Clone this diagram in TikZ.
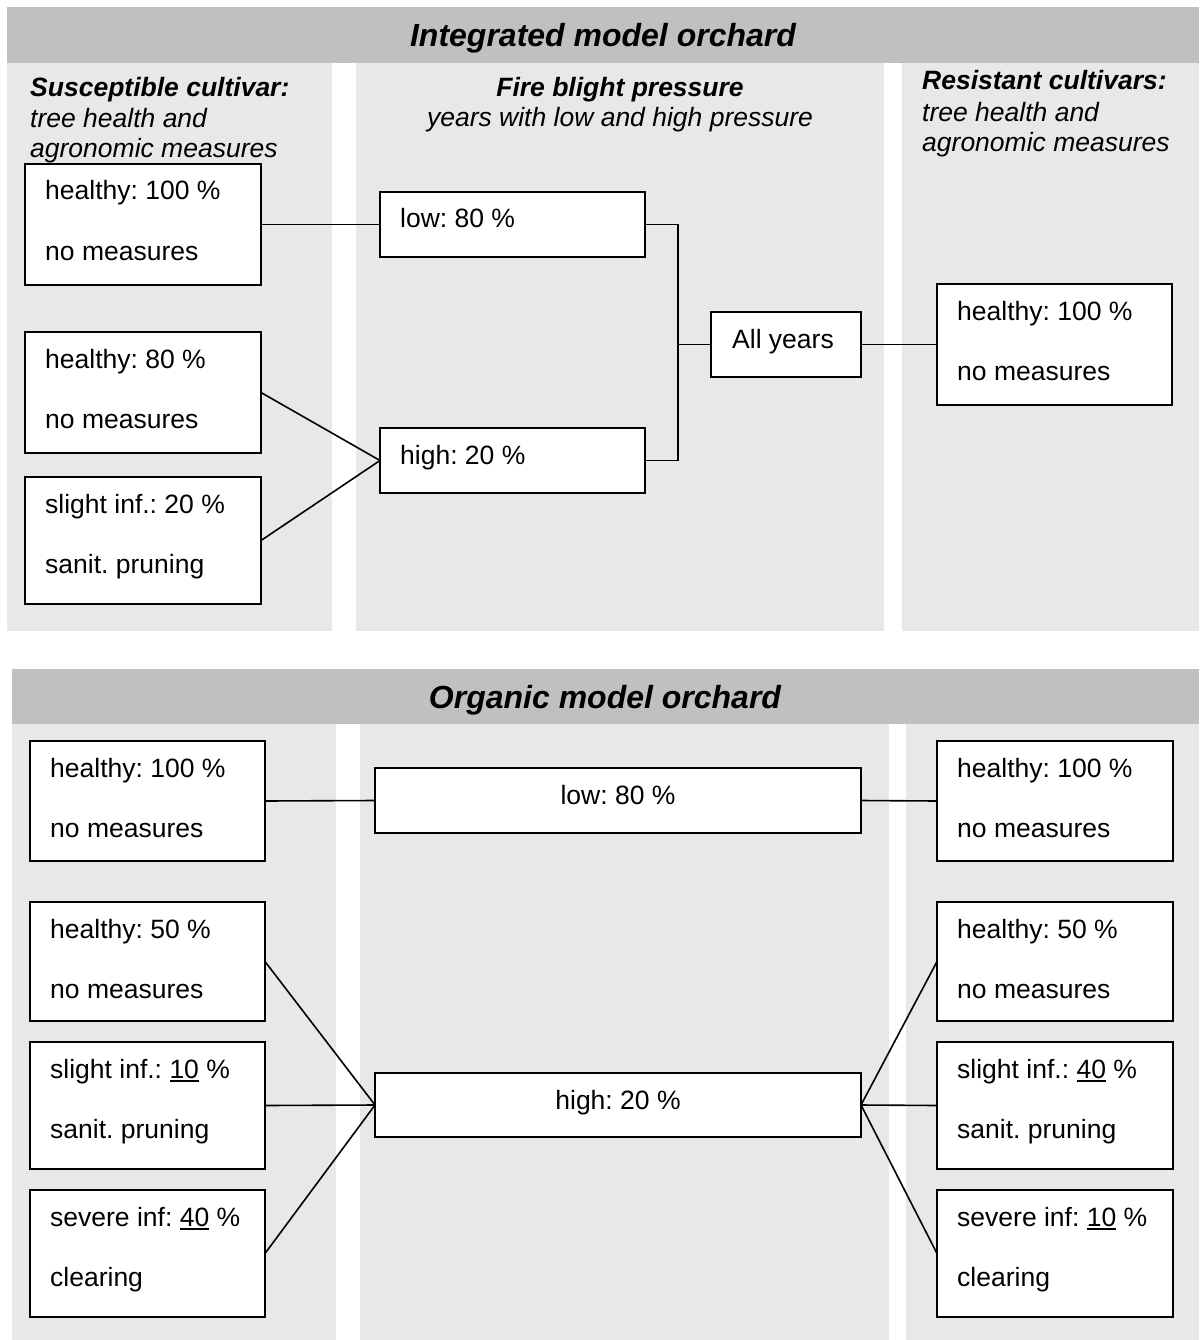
\documentclass[tikz,border=0pt]{standalone}
\usepackage{fontspec}
\setmainfont{Liberation Sans}
\usetikzlibrary{calc}
\definecolor{headgray}{HTML}{C0C0C0}
\definecolor{colgray}{HTML}{E8E8E8}
\newcommand\uln[1]{\leavevmode\setbox0\hbox{#1}\rlap{\rule[-3.6pt]{\wd0}{1.6pt}}\box0\relax}
\frenchspacing
\tikzset{
  tbox/.style={draw=black, fill=white, line width=1.8pt, inner sep=0pt, outer sep=0pt, anchor=north west},
  txt/.style={anchor=base west, inner sep=0pt, font=\fontsize{26.5}{30}\selectfont\frenchspacing},
  ctxt/.style={anchor=base, inner sep=0pt, font=\fontsize{26.5}{30}\selectfont\frenchspacing},
  head/.style={anchor=base west, inner sep=0pt, font=\fontsize{26.5}{30}\selectfont\itshape},
  chead/.style={anchor=base, inner sep=0pt, font=\fontsize{26.5}{30}\selectfont\itshape},
  title/.style={anchor=base, inner sep=0pt, font=\fontsize{32}{36}\selectfont\bfseries\itshape},
  conn/.style={line width=1.6pt, black},
  band/.style={fill=headgray, draw=none},
  col/.style={fill=colgray, draw=none}
}
\newcommand\twobox[7]{%
  \node[tbox, minimum width=#4, minimum height=#5] (#1) at (#2,#3) {};
  \node[txt] (#1a) at ($(#1.north west)+(20,36)$) {#6};
  \node[txt] (#1b) at ($(#1.north west)+(20,96)$) {#7};}
\begin{document}
\begin{tikzpicture}[x=1pt,y=-1pt]
\useasboundingbox (0,0) rectangle (1199,1340);
% ---------- Integrated ----------
\fill[band] (7,7) rectangle (1199,63);
\fill[col] (7,63) rectangle (332,631);
\fill[col] (356,63) rectangle (884,631);
\fill[col] (902,63) rectangle (1199,631);
\node[title] (t1) at (603,47) {Integrated model orchard};
\node[head] (h1a) at (30,97) {\bfseries Susceptible cultivar:};
\node[head] (h1b) at (30,128) {tree health and};
\node[head] (h1c) at (30,158) {agronomic measures};
\node[chead] (h2a) at (620,97) {\bfseries Fire blight pressure};
\node[chead] (h2b) at (620,127) {years with low and high pressure};
\node[head] (h3a) at (922,90) {\bfseries Resistant cultivars:};
\node[head] (h3b) at (922,122) {tree health and};
\node[head] (h3c) at (922,152) {agronomic measures};

\twobox{L1}{25}{164}{236}{121}{healthy: 100 \%}{no measures}
\twobox{L2}{25}{332}{236}{121}{healthy: 80 \%}{no measures}
\twobox{L3}{25}{477}{236}{127}{slight inf.: 20 \%}{sanit. pruning}
\twobox{R1}{937}{284}{235}{121}{healthy: 100 \%}{no measures}
\node[tbox, minimum width=265, minimum height=65] (low) at (380,192) {};
\node[txt] (lowt) at ($(low.north west)+(20,36)$) {low: 80 \%};
\node[tbox, minimum width=265, minimum height=65] (high) at (380,428) {};
\node[txt] (hight) at ($(high.north west)+(20,36)$) {high: 20 \%};
\node[tbox, minimum width=150, minimum height=65] (all) at (711,312) {};
\node[txt] (allt) at ($(all.north west)+(21,36)$) {All years};
\coordinate (jx) at (678,0);

\draw[conn] (L1.east) -- (low.west);
\draw[conn] (L2.east) -- (high.west);
\draw[conn] (L3.east) -- (high.west);
\draw[conn] (low.east) -- (low.east -| jx) -- (high.east -| jx) -- (high.east);
\draw[conn] (all.west -| jx) -- (all.west);
\draw[conn] (all.east) -- (R1.west);

% ---------- Organic ----------
\fill[band] (12,669) rectangle (1199,724);
\fill[col] (12,724) rectangle (336,1340);
\fill[col] (360,724) rectangle (889,1340);
\fill[col] (906,724) rectangle (1199,1340);
\node[title] (t2) at (605,708) {Organic model orchard};

\twobox{BL1}{30}{741}{235}{120}{healthy: 100 \%}{no measures}
\twobox{BL2}{30}{902}{235}{119}{healthy: 50 \%}{no measures}
\twobox{BL3}{30}{1042}{235}{127}{slight inf.: \uln{10} \%}{sanit. pruning}
\twobox{BL4}{30}{1190}{235}{127}{severe inf: \uln{40} \%}{clearing}
\twobox{BR1}{937}{741}{236}{120}{healthy: 100 \%}{no measures}
\twobox{BR2}{937}{902}{236}{119}{healthy: 50 \%}{no measures}
\twobox{BR3}{937}{1042}{236}{127}{slight inf.: \uln{40} \%}{sanit. pruning}
\twobox{BR4}{937}{1190}{236}{127}{severe inf: \uln{10} \%}{clearing}
\node[tbox, minimum width=486, minimum height=65] (blow) at (375,768) {};
\node[ctxt] (blowt) at ($(blow.north)+(0,36)$) {low: 80 \%};
\node[tbox, minimum width=486, minimum height=64] (bhigh) at (375,1073) {};
\node[ctxt] (bhight) at ($(bhigh.north)+(0,36)$) {high: 20 \%};

\draw[conn] (BL1.east) -- (blow.west);
\draw[conn] (blow.east) -- (BR1.west);
\draw[conn] (BL2.east) -- (bhigh.west);
\draw[conn] (BL3.east) -- (bhigh.west);
\draw[conn] (BL4.east) -- (bhigh.west);
\draw[conn] (bhigh.east) -- (BR2.west);
\draw[conn] (bhigh.east) -- (BR3.west);
\draw[conn] (bhigh.east) -- (BR4.west);
\end{tikzpicture}
\end{document}
